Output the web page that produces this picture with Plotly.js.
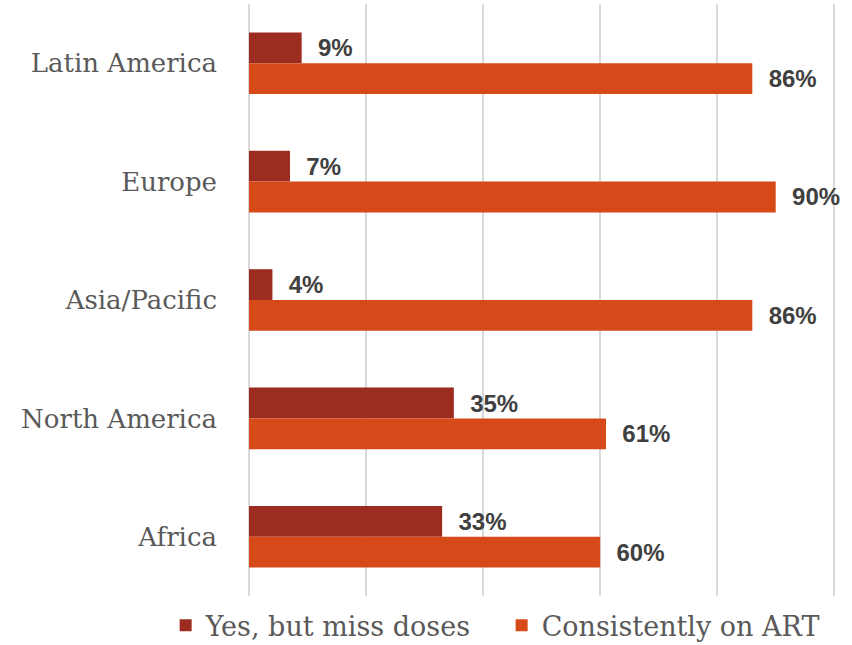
<!DOCTYPE html>
<html><head><meta charset="utf-8">
<script src="https://cdn.plot.ly/plotly-3.0.1.min.js"></script>
<style>body{margin:0;background:#fff}#chart{width:852px;height:645px}</style>
</head><body><div id="chart"></div>
<script>
const categories = ["Latin America", "Europe", "Asia/Pacific", "North America", "Africa"];
const seriesNames = ["Yes, but miss doses", "Consistently on ART"];
const missDoses = [9, 7, 4, 35, 33];
const consistent = [86, 90, 86, 61, 60];
const tickVals = [0, 20, 40, 60, 80, 100];

const labelFont = {family: "Liberation Sans, Arial, sans-serif", size: 24, color: "#404040", weight: 700};
function mk(vals, name, color) {
  return {
    type: "bar", orientation: "h", name: name, y: categories, x: vals,
    marker: {color: color},
    text: vals.map(v => "\u00a0\u00a0" + v + "%"), textposition: "outside",
    textfont: labelFont, cliponaxis: false, hoverinfo: "none"
  };
}
const data = [mk(missDoses, seriesNames[0], "#9C2B20"), mk(consistent, seriesNames[1], "#D54A18")];
const layout = {
  width: 852, height: 645,
  margin: {l: 249, r: 16, t: 4, b: 49, autoexpand: false},
  paper_bgcolor: "#fff", plot_bgcolor: "#fff",
  barmode: "group", bargap: 0.48, bargroupgap: 0,
  xaxis: {range: [0, 100.3], tickvals: tickVals, showticklabels: false, showgrid: true,
          gridcolor: "#d9d9d9", gridwidth: 2, zeroline: true, zerolinecolor: "#d9d9d9", zerolinewidth: 2,
          showline: false, fixedrange: true},
  yaxis: {autorange: "reversed", showgrid: false, zeroline: false, showline: false, ticks: "",
          ticklabelstandoff: 31,
          tickfont: {family: "DejaVu Serif, serif", size: 26, color: "#595959"}},
  showlegend: true,
  legend: {orientation: "h", x: -0.142, xanchor: "left", y: -0.05, yanchor: "middle",
           font: {family: "DejaVu Serif, serif", size: 27, color: "#595959"}, traceorder: "normal",
           itemwidth: 30, entrywidth: 291},
  font: {family: "DejaVu Serif, serif"}
};
Plotly.newPlot("chart", data, layout, {staticPlot: true});
</script></body></html>
